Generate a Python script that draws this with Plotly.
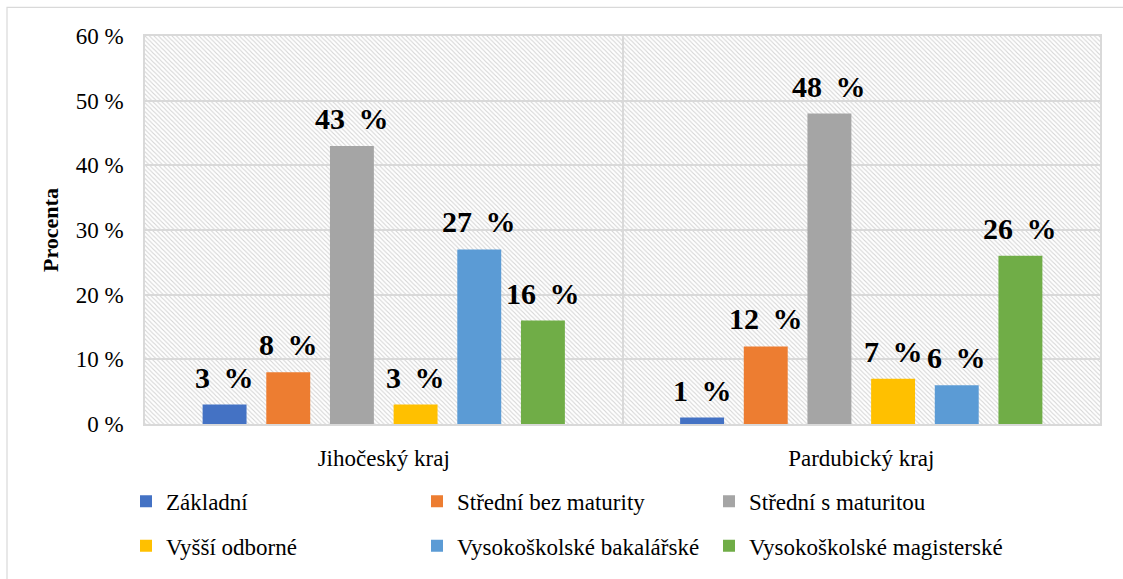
import base64
import plotly.graph_objects as go

regions = ["Jihočeský kraj", "Pardubický kraj"]
series_names = ["Základní", "Střední bez maturity", "Střední s maturitou",
                "Vyšší odborné", "Vysokoškolské bakalářské", "Vysokoškolské magisterské"]
values = [
    [3, 1],
    [8, 12],
    [43, 48],
    [3, 7],
    [27, 6],
    [16, 26],
]
colors = ["#4472C4", "#ED7D31", "#A5A5A5", "#FFC000", "#5B9BD5", "#70AD47"]
y_ticks = [0, 10, 20, 30, 40, 50, 60]

W, H = 1123, 579
L, R, T, B = 145, 23, 36, 151
PW, PH = W - L - R, H - T - B
BARGAP, BARGROUPGAP = 0.2, 0.31
FONT = "Liberation Serif, Times New Roman, serif"

fig = go.Figure()
for i, (name, vals, col) in enumerate(zip(series_names, values, colors)):
    fig.add_trace(go.Bar(
        x=regions, y=vals, name=name, marker_color=col, marker_line_width=0,
        legend="legend" if i == 0 else f"legend{i+1}",
        hoverinfo="skip",
    ))

# value labels above bars
slot = PW / len(regions) * (1 - BARGAP) / len(series_names)
ann = []
for i, vals in enumerate(values):
    for r, v in zip(regions, vals):
        ann.append(dict(
            x=r, y=v, xref="x", yref="y", text=f"<b>{v}\u2009 %</b>", showarrow=False,
            xanchor="center", yanchor="bottom", yshift=9,
            xshift=(i - (len(series_names) - 1) / 2) * slot,
            font=dict(family=FONT, size=30, color="black"),
        ))

# hatch background
svg = (f'<svg xmlns="http://www.w3.org/2000/svg" width="{PW}" height="{PH}">'
       '<defs><pattern id="h" width="4.5" height="4.5" patternUnits="userSpaceOnUse">'
       '<path d="M-1,-1 L5.5,5.5 M-1,3.5 L1,5.5 M3.5,-1 L5.5,1" stroke="#d4d4d4" stroke-width="1.1"/>'
       '</pattern></defs>'
       f'<rect width="{PW}" height="{PH}" fill="white"/>'
       f'<rect width="{PW}" height="{PH}" fill="url(#h)"/></svg>')
src = "data:image/svg+xml;base64," + base64.b64encode(svg.encode()).decode()

layout_legends = {}
col_px = [126, 417, 709]
row_px = [506, 551]
for i in range(len(series_names)):
    key = "legend" if i == 0 else f"legend{i+1}"
    cx = col_px[i % 3]
    ry = row_px[i // 3]
    layout_legends[key] = dict(
        x=(cx - L) / PW, y=(H - B - ry) / PH, xanchor="left", yanchor="middle",
        bgcolor="rgba(0,0,0,0)", borderwidth=0,
        font=dict(family=FONT, size=23, color="black"),
    )

fig.update_layout(
    width=W, height=H,
    margin=dict(l=L, r=R, t=T, b=B),
    paper_bgcolor="white", plot_bgcolor="rgba(0,0,0,0)",
    barmode="group", bargap=BARGAP, bargroupgap=BARGROUPGAP,
    showlegend=True,
    annotations=ann,
    images=[dict(source=src, xref="paper", yref="paper", x=0, y=1,
                 sizex=1, sizey=1, xanchor="left", yanchor="top",
                 sizing="stretch", layer="below")],
    shapes=[dict(type="rect", xref="paper", yref="paper",
                 x0=(7 - L) / PW, x1=(1135 - L) / PW,
                 y0=(H - B - 590) / PH, y1=(H - B - 7) / PH,
                 line=dict(color="#d9d9d9", width=1.2), fillcolor="rgba(0,0,0,0)",
                 layer="below")],
    font=dict(family=FONT, size=23, color="black"),
    **layout_legends,
)
fig.update_xaxes(
    type="category", tickson="boundaries", showgrid=True, gridcolor="#d9d9d9", gridwidth=1.5,
    showline=True, mirror=True, linecolor="#d9d9d9", linewidth=1.5, ticks="",
    ticklabelstandoff=13, tickfont=dict(family=FONT, size=23, color="black"),
    automargin=False,
)
fig.update_yaxes(
    range=[0, 60], tickvals=y_ticks, ticktext=[f"{t} %" for t in y_ticks],
    showgrid=True, gridcolor="#d9d9d9", gridwidth=1.5, zeroline=False,
    showline=True, mirror=True, linecolor="#d9d9d9", linewidth=1.5, ticks="",
    ticklabelstandoff=15, tickfont=dict(family=FONT, size=23, color="black"),
    title=dict(text="<b>Procenta</b>", font=dict(family=FONT, size=22, color="black"), standoff=11),
    automargin=False,
)
fig.write_html("out.html", config={"displayModeBar": False},
               post_script="document.body.style.margin='0';document.body.style.padding='0';")
